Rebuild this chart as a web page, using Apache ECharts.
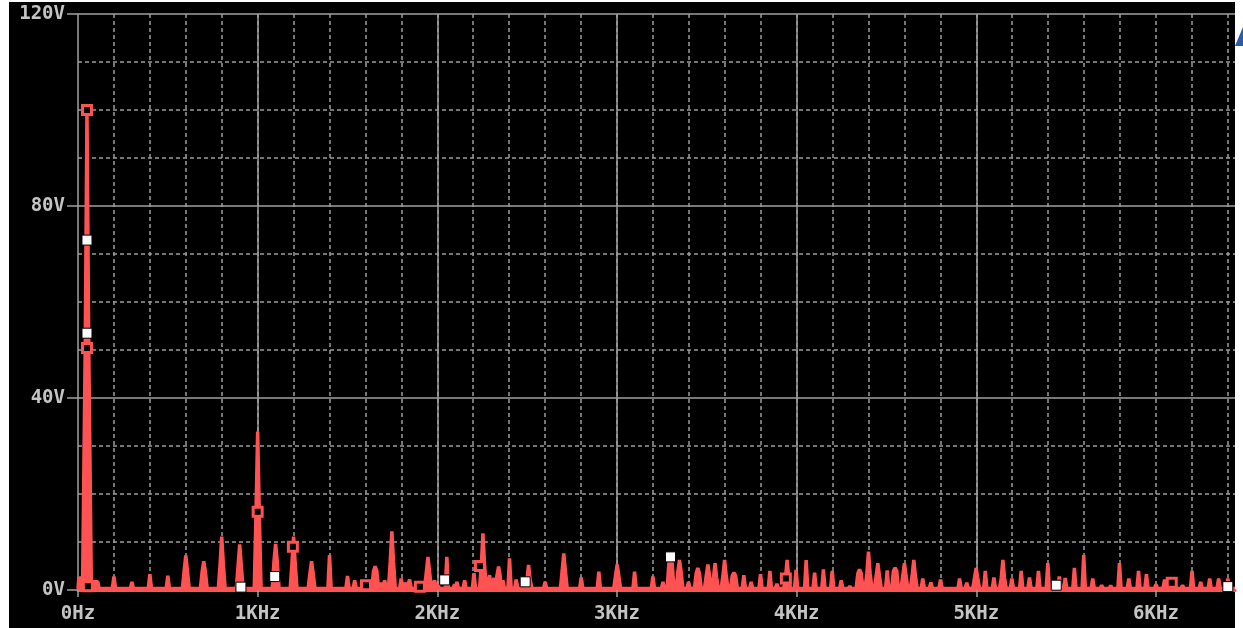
<!DOCTYPE html>
<html>
<head>
<meta charset="utf-8">
<script src="https://cdn.jsdelivr.net/npm/echarts@6/dist/echarts.min.js"></script>
<style>
html,body{margin:0;padding:0;background:#ffffff;}
#chart{width:1243px;height:628px;}
</style>
</head>
<body>
<div id="chart"></div>
<script>
// ---- data ----
const xTickValues = [0, 1000, 2000, 3000, 4000, 5000, 6000];
const xTickLabels = ['0Hz', '1KHz', '2KHz', '3KHz', '4KHz', '5KHz', '6KHz'];
const yTickValues = [0, 40, 80, 120];
const yTickLabels = ['0V', '40V', '80V', '120V'];

// DC + fundamental region of the trace (Hz, V)
const lowFreq = [0, 5, 26, 40, 50, 60, 74, 110, 118];
const lowVolt = [0.3, 2.5, 2.5, 50, 100, 50, 1.7, 1.7, 0.3];

// spectral lines: frequency (Hz), peak (V), side-bin level (V, 0 = none)
const spikeFreq = [200,300,400,500,600,700,800,900,1000,1100,1200,1300,1400,1500,1540,
  1654,1686,1707,1747,1799,1820,1846,1948,1985,2003,2053,2096,2109,2152,2204,2254,2291,2315,
  2341,2365,2402,2439,2508,2600,2704,2801,2899,3001,3098,3200,3256,3298,3348,3398,3450,3506,
  3546,3599,3651,3706,3747,3799,3851,3890,3947,3997,4053,4100,4149,4198,4248,4296,4350,4400,
  4452,4504,4548,4600,4652,4702,4747,4801,4907,4947,4999,5050,5098,5148,5198,5250,5296,5346,
  5398,5462,5495,5546,5598,5648,5698,5748,5797,5849,5903,5947,6000,6048,6098,6148,6201,6249,
  6299,6349,6400];
const spikePeak = [2.8,1.7,3.3,3.0,7.2,6.0,11.1,9.5,33.0,9.6,11.1,6.0,7.3,2.9,2.0,
  4.9,1.5,2.0,12.2,2.4,1.5,2.2,6.9,2.0,1.2,6.9,1.2,1.7,2.0,3.5,11.8,3.1,2.5,
  4.9,2.0,6.6,2.2,5.2,1.7,7.6,2.6,3.8,5.3,3.8,2.8,1.7,6.8,6.25,1.7,4.6,5.3,
  5.6,6.25,3.6,3.1,1.7,3.3,4.0,1.3,6.25,4.2,6.25,3.6,4.3,4.0,2.0,0.8,4.3,8.0,
  5.6,4.1,4.6,5.6,6.25,2.4,1.6,2.2,2.4,1.5,4.6,4.0,2.6,6.25,2.4,4.0,2.6,4.0,
  5.6,2.8,2.5,4.6,7.3,2.4,1.0,0.9,5.6,2.4,4.0,3.3,1.2,2.2,1.3,1.0,4.0,1.7,
  2.4,2.4,2.4];
const spikeSide = [0,0,0,0,4.0,3.8,5.4,5.0,16.3,6.0,5.6,3.5,0,0,0,
  4.0,0,0,6.0,0,0,0,3.8,0,0,0,0,0,0,0,5.2,0,0,
  3.0,0,0,0,2.0,0,4.0,0,0,3.0,0,0,0,5.6,3.8,0,3.5,3.0,
  2.5,3.0,3.0,0,0,0,0,0,2.5,0,0,0,0,0,0,0,3.5,3.5,
  3.0,0,4.0,3.0,3.0,0,0,0,0,0,2.5,0,0,2.5,0,0,0,0,
  0,0,0,0,0,0,0,0,0,0,0,0,0,0,0,0,0,0,
  0,0,0];
const noiseFloor = 0.3;
const fMax = 6440;

// trace markers (Hz, V)
const redMarkFreq = [50, 50, 55, 1000, 1196, 1603, 1903, 2237, 3940, 6088];
const redMarkVolt = [100, 50.4, 0.8, 16.3, 9.0, 1.0, 0.7, 5.0, 2.4, 1.5];
const whiteMarkFreq = [50, 50, 907, 1095, 2041, 2489, 3298, 5445, 6400];
const whiteMarkVolt = [72.9, 53.5, 0.6, 2.8, 2.1, 1.7, 6.9, 1.0, 0.7];

// ---- build trace ----
let trace = [];
for (let i = 0; i < lowFreq.length; i++) trace.push([lowFreq[i], lowVolt[i]]);
for (let i = 0; i < spikeFreq.length; i++) {
  const f = spikeFreq[i], p = spikePeak[i], s = spikeSide[i];
  if (s > 0) {
    trace.push([f - 19, noiseFloor], [f - 9, s], [f, p], [f + 9, s], [f + 19, noiseFloor]);
  } else {
    trace.push([f - 9, noiseFloor], [f, p], [f + 9, noiseFloor]);
  }
}
trace.push([fMax, noiseFloor]);
trace.sort((a, b) => a[0] - b[0]);

const redMarks = redMarkFreq.map((f, i) => [f, redMarkVolt[i]]);
const whiteMarks = whiteMarkFreq.map((f, i) => [f, whiteMarkVolt[i]]);

const red = '#ff5252';
const gridCol = '#a0a0a0';
const textStyle = { color: '#c4c4c4', fontFamily: 'DejaVu Sans Mono', fontWeight: 'bold', fontSize: 19 };

const chart = echarts.init(document.getElementById('chart'), null, { renderer: 'canvas' });
chart.setOption({
  animation: false,
  backgroundColor: 'transparent',
  graphic: [
    { type: 'rect', z: -100, silent: true, shape: { x: 9, y: 2, width: 1226, height: 626 }, style: { fill: '#000000' } },
    { type: 'polygon', z: 100, silent: true, shape: { points: [[1243, 27], [1235, 46], [1243, 46]] }, style: { fill: '#2a5ca8' } }
  ],
  grid: { left: 78, top: 14, right: 8, bottom: 38, containLabel: false },
  xAxis: [
    {
      type: 'value', min: 0, max: fMax, interval: 1000,
      axisLine: { show: true, lineStyle: { color: red, width: 3 } },
      axisTick: { show: true, length: 7, customValues: xTickValues, lineStyle: { color: gridCol, width: 1.5 } },
      axisLabel: Object.assign({
        margin: 15, customValues: xTickValues,
        formatter: v => { const k = xTickValues.indexOf(v); return k >= 0 ? xTickLabels[k] : ''; }
      }, textStyle),
      splitLine: { show: true, showMinLine: false, showMaxLine: false, lineStyle: { color: gridCol, width: 1.5 } }
    },
    {
      type: 'value', min: 0, max: fMax, interval: 200, position: 'bottom',
      axisLine: { show: false }, axisTick: { show: false }, axisLabel: { show: false },
      splitLine: { show: true, showMinLine: false, showMaxLine: false, lineStyle: { color: '#9c9c9c', width: 1.5, type: [4, 3] } }
    }
  ],
  yAxis: {
    type: 'value', min: 0, max: 120, interval: 40,
    axisLine: { show: true, lineStyle: { color: gridCol, width: 1.5 } },
    axisTick: { show: true, length: 11, lineStyle: { color: gridCol, width: 1.5 } },
    axisLabel: Object.assign({
      margin: 13,
      formatter: v => { const k = yTickValues.indexOf(v); return k >= 0 ? yTickLabels[k] : ''; }
    }, textStyle),
    splitLine: { show: true, lineStyle: { color: gridCol, width: 1.5 } },
    minorTick: { show: false, splitNumber: 4 },
    minorSplitLine: { show: true, lineStyle: { color: '#9c9c9c', width: 1.5, type: [4, 3] } }
  },
  series: [
    {
      type: 'line', data: trace, xAxisIndex: 0, showSymbol: false, z: 3,
      lineStyle: { color: red, width: 3.5, join: 'bevel' },
      areaStyle: { color: red, opacity: 1, origin: 'start' }
    },
    {
      type: 'scatter', data: redMarks, xAxisIndex: 0, symbol: 'rect', symbolSize: 9, z: 5,
      itemStyle: { color: '#000000', borderColor: red, borderWidth: 3, opacity: 1 }
    },
    {
      type: 'scatter', data: whiteMarks, xAxisIndex: 0, symbol: 'rect', symbolSize: 10, z: 6,
      itemStyle: { color: '#ffffff', borderColor: '#000000', borderWidth: 1, opacity: 1 }
    }
  ]
});
</script>
</body>
</html>
